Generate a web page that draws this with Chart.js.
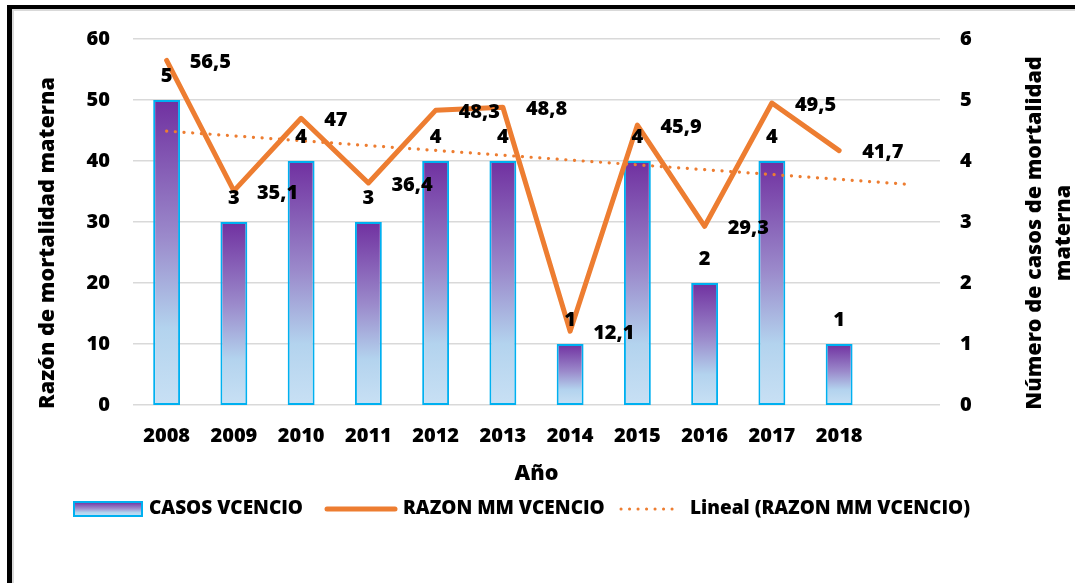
<!DOCTYPE html>
<html>
<head>
<meta charset="utf-8">
<script src="https://cdn.jsdelivr.net/npm/chart.js@4"></script>
<style>
  html, body { margin: 0; padding: 0; background: #fff; }
  #wrap { position: relative; width: 1075px; height: 583px; overflow: hidden; }
  #c { position: absolute; left: 0; top: 0; }
  #frame { position: absolute; left: 7px; top: 5px; width: 1200px; height: 700px;
           border-left: 5px solid #000; border-top: 4px solid #000; pointer-events: none; }
  #frame::after { content: ''; position: absolute; left: 0; top: 0; right: 0; bottom: 0;
           border-left: 2px solid #d9d9d9; border-top: 2px solid #d9d9d9; }
</style>
</head>
<body>
<div id="wrap">
  <canvas id="c" width="1075" height="583"></canvas>
  <div id="frame"></div>
</div>
<script>
// ---- data ----
const years = ['2008','2009','2010','2011','2012','2013','2014','2015','2016','2017','2018'];
const casos = [5, 3, 4, 3, 4, 4, 1, 4, 2, 4, 1];
const razon = [56.5, 35.1, 47, 36.4, 48.3, 48.8, 12.1, 45.9, 29.3, 49.5, 41.7];
const trendStart = 44.9;   // linear trend value at 2008
const trendEnd = 36.2;     // linear trend value one period after 2018
const leftTicks = [0, 10, 20, 30, 40, 50, 60];
const rightTicks = [0, 1, 2, 3, 4, 5, 6];
const leftTitle = 'Razón de mortalidad materna';
const rightTitle = ['Número de casos de mortalidad', 'materna'];
const xTitle = 'Año';
const seriesNames = ['CASOS VCENCIO', 'RAZON MM VCENCIO', 'Lineal (RAZON MM VCENCIO)'];

// ---- derived ----
const labels = years.concat(['']);
const trendData = labels.map((_, i) => i === 0 ? trendStart : (i === labels.length - 1 ? trendEnd : null));

const FONT = '"Open Sans"';
const W = 800;
const FS = 20;          // ticks & value labels
const FS_TITLE = 21.6;  // axis titles
const FS_LEG = 19;      // legend
const ORANGE = '#ED7D31';
const CYAN = '#00B0F0';

function barGradient(ctx2d, top, bottom) {
  const g = ctx2d.createLinearGradient(0, top, 0, bottom);
  g.addColorStop(0, '#7030A0');
  g.addColorStop(0.45, '#9B8ACB');
  g.addColorStop(0.75, '#B3D3EE');
  g.addColorStop(1, '#C8E0F4');
  return g;
}

const labelsPlugin = {
  id: 'valueLabels',
  afterDatasetsDraw(chart) {
    const ctx = chart.ctx;
    ctx.save();
    ctx.font = `${W} ${FS}px ${FONT}`;
    ctx.fillStyle = '#000';
    ctx.textBaseline = 'middle';
    const barMeta = chart.getDatasetMeta(0);
    ctx.textAlign = 'center';
    barMeta.data.forEach((el, i) => {
      if (casos[i] == null) return;
      ctx.fillText(String(casos[i]), el.x, el.y - 24);
    });
    const lineMeta = chart.getDatasetMeta(1);
    ctx.textAlign = 'left';
    lineMeta.data.forEach((el, i) => {
      if (razon[i] == null) return;
      ctx.fillText(String(razon[i]).replace('.', ','), el.x + 23, el.y + 2);
    });
    ctx.restore();
  },
  afterDraw(chart) {
    const ctx = chart.ctx;
    const ca = chart.chartArea;
    ctx.save();
    ctx.fillStyle = '#000';
    ctx.textBaseline = 'middle';
    ctx.textAlign = 'center';
    ctx.font = `${W} ${FS_TITLE}px ${FONT}`;
    ctx.fillText(xTitle, (ca.left + ca.right) / 2, 474);
    ctx.save();
    ctx.translate(48, 243);
    ctx.rotate(-Math.PI / 2);
    ctx.fillText(leftTitle, 0, 0);
    ctx.restore();
    ctx.save();
    ctx.translate(1035, 233);
    ctx.rotate(-Math.PI / 2);
    ctx.fillText(rightTitle[0], 0, 0);
    ctx.fillText(rightTitle[1], 0, 29);
    ctx.restore();
    // legend
    const ly = 509;
    ctx.font = `${W} ${FS_LEG}px ${FONT}`;
    ctx.textAlign = 'left';
    ctx.fillStyle = barGradient(ctx, 502, 516);
    ctx.fillRect(74, 502, 68, 14);
    ctx.strokeStyle = CYAN;
    ctx.lineWidth = 2;
    ctx.strokeRect(74, 502, 68, 14);
    ctx.fillStyle = '#000';
    ctx.fillText(seriesNames[0], 149, ly);
    ctx.strokeStyle = ORANGE;
    ctx.lineWidth = 5;
    ctx.lineCap = 'round';
    ctx.beginPath(); ctx.moveTo(327, ly); ctx.lineTo(395, ly); ctx.stroke();
    ctx.fillText(seriesNames[1], 403, ly);
    ctx.lineWidth = 3;
    ctx.setLineDash([0.1, 8.4]);
    ctx.beginPath(); ctx.moveTo(621, ly); ctx.lineTo(677, ly); ctx.stroke();
    ctx.setLineDash([]);
    ctx.fillText(seriesNames[2], 690, ly);
    ctx.restore();
  }
};

new Chart(document.getElementById('c'), {
  data: {
    labels: labels,
    datasets: [
      {
        type: 'bar',
        label: seriesNames[0],
        data: casos,
        yAxisID: 'y1',
        order: 3,
        borderColor: CYAN,
        borderWidth: 2,
        borderSkipped: false,
        categoryPercentage: 1,
        barPercentage: 0.4,
        backgroundColor: (c) => {
          const chart = c.chart;
          if (!chart.chartArea || c.raw == null) return '#9B8ACB';
          const s = chart.scales.y1;
          return barGradient(chart.ctx, s.getPixelForValue(c.raw), s.getPixelForValue(0));
        }
      },
      {
        type: 'line',
        label: seriesNames[1],
        data: razon,
        yAxisID: 'y',
        order: 1,
        borderColor: ORANGE,
        borderWidth: 5,
        borderJoinStyle: 'round',
        borderCapStyle: 'round',
        pointRadius: 0,
        tension: 0,
        fill: false
      },
      {
        type: 'line',
        label: seriesNames[2],
        data: trendData,
        yAxisID: 'y',
        order: 2,
        borderColor: ORANGE,
        borderWidth: 3.2,
        borderDash: [0.1, 8.6],
        borderCapStyle: 'round',
        pointRadius: 0,
        spanGaps: true,
        fill: false
      }
    ]
  },
  options: {
    responsive: false,
    animation: false,
    events: [],
    layout: { padding: { top: 39, left: 0, right: 0, bottom: 0 } },
    plugins: { legend: { display: false }, tooltip: { enabled: false }, title: { display: false } },
    scales: {
      x: {
        type: 'category',
        offset: true,
        grid: { display: false, drawTicks: false },
        border: { display: false },
        ticks: { color: '#000', font: { family: FONT, size: FS, weight: W }, padding: 19, maxRotation: 0, autoSkip: false },
        afterFit: (s) => { s.height = 178; }
      },
      y: {
        position: 'left',
        min: 0, max: 60,
        afterBuildTicks: (s) => { s.ticks = leftTicks.map(v => ({ value: v })); },
        grid: { color: '#D9D9D9', lineWidth: 1.5, drawTicks: false },
        border: { display: false },
        ticks: { color: '#000', font: { family: FONT, size: FS, weight: W }, padding: 23 },
        afterFit: (s) => { s.width = 133; }
      },
      y1: {
        position: 'right',
        min: 0, max: 6,
        afterBuildTicks: (s) => { s.ticks = rightTicks.map(v => ({ value: v })); },
        grid: { display: false, drawTicks: false },
        border: { display: false },
        ticks: { color: '#000', font: { family: FONT, size: FS, weight: W }, padding: 20 },
        afterFit: (s) => { s.width = 135; }
      }
    }
  },
  plugins: [labelsPlugin]
});
</script>
</body>
</html>
